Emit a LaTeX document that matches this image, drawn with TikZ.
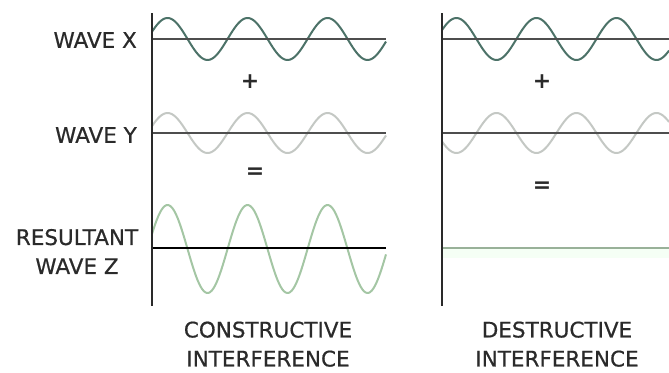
\documentclass[tikz,border=0pt]{standalone}
\usepackage{fontspec}
\setmainfont{DejaVu Sans}
\newfontface\etiqfont[FakeBold=0.6]{DejaVu Sans}
\begin{document}
\begin{tikzpicture}[x=1pt,y=-1pt,
etiq/.style={text=texte,font=\fontsize{21.5}{29}\etiqfont,inner sep=0pt,align=center,text depth=0pt},
signe/.style={text=texte,font=\fontsize{22}{22}\selectfont\bfseries,inner sep=0pt},
axe/.style={draw=texte,line width=1.8pt},
base/.style={draw=gris,line width=2.6pt},
ondex/.style={draw=bleu,line width=2pt,line join=round},
ondey/.style={draw=clair,line width=2pt,line join=round},
ondez/.style={draw=vert,line width=2pt,line join=round}]
\definecolor{texte}{RGB}{42,42,42}
\definecolor{gris}{RGB}{78,78,78}
\definecolor{bleu}{RGB}{76,114,104}
\definecolor{clair}{RGB}{196,200,196}
\definecolor{vert}{RGB}{164,198,164}
\useasboundingbox (0,0) rectangle (669,372);
% interference constructive
\draw[ondex] plot[domain=152:386,samples=150] (\x,{39-21*sin(4.5*(\x-152)+20)});
\draw[ondey] plot[domain=152:386,samples=150] (\x,{133-20*sin(4.5*(\x-152)+20)});
\draw[ondez] plot[domain=152:386,samples=150] (\x,{249-44*sin(4.5*(\x-152)+20)});
\draw[base] (152,39) -- (386,39);
\draw[base] (152,133) -- (386,133);
\draw[draw=black,line width=1.5pt] (152,248) -- (386,248);
\draw[axe] (152,13) -- (152,306);
% interference destructive
\draw[ondex] plot[domain=442:669,samples=150] (\x,{39-21*sin(4.5*(\x-442)+25)});
\draw[ondey] plot[domain=442:669,samples=150] (\x,{133+20*sin(4.5*(\x-442)+25)});
\fill[green!4] (443,249) rectangle (669,258);
\draw[draw=vert!70!gray,line width=1.6pt] (442,248) -- (669,248);
\draw[base] (442,39) -- (669,39);
\draw[base] (442,133) -- (669,133);
\draw[axe] (442,13) -- (442,306);
% textes
\node[etiq,anchor=east] (ondeX) at (137,40) {WAVE X};
\node[etiq,anchor=east] (ondeY) at (137,135) {WAVE Y};
\node[etiq] (ondeZ) at (77,251.5) {RESULTANT\\WAVE Z};
\node[signe] (plusA) at (250,82) {+};
\node[signe] (egalA) at (255,173) {=};
\node[signe] (plusB) at (542,82) {+};
\node[signe] (egalB) at (542,187) {=};
\node[etiq] (constr) at (268,344) {CONSTRUCTIVE\\INTERFERENCE};
\node[etiq] (destr) at (557,344) {DESTRUCTIVE\\INTERFERENCE};
\end{tikzpicture}
\end{document}
